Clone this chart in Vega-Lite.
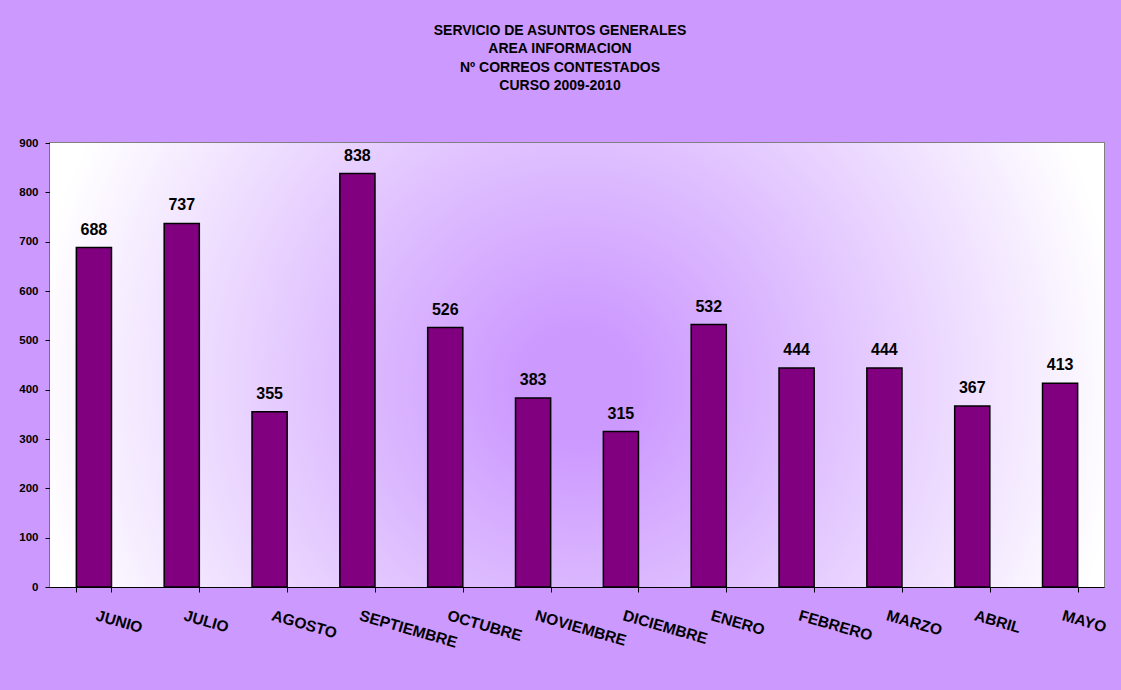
{
  "$schema": "https://vega.github.io/schema/vega-lite/v6.json",
  "autosize": {"type": "none"},
  "width": 1054,
  "height": 444,
  "padding": {"left": 50, "top": 143, "right": 17, "bottom": 103},
  "background": "#CC99FF",
  "title": {
    "text": ["SERVICIO DE ASUNTOS GENERALES", "AREA INFORMACION", "Nº CORREOS CONTESTADOS", "CURSO 2009-2010"],
    "anchor": "middle",
    "frame": "group",
    "dx": -17,
    "offset": 44,
    "font": "Liberation Sans",
    "fontSize": 14,
    "fontWeight": "bold",
    "lineHeight": 18.5,
    "color": "#000000"
  },
  "data": {
    "values": [
      {"mes": "JUNIO", "correos": 688},
      {"mes": "JULIO", "correos": 737},
      {"mes": "AGOSTO", "correos": 355},
      {"mes": "SEPTIEMBRE", "correos": 838},
      {"mes": "OCTUBRE", "correos": 526},
      {"mes": "NOVIEMBRE", "correos": 383},
      {"mes": "DICIEMBRE", "correos": 315},
      {"mes": "ENERO", "correos": 532},
      {"mes": "FEBRERO", "correos": 444},
      {"mes": "MARZO", "correos": 444},
      {"mes": "ABRIL", "correos": 367},
      {"mes": "MAYO", "correos": 413}
    ]
  },
  "layer": [
    {
      "data": {"values": [{}]},
      "mark": {
        "type": "rect",
        "color": {
          "gradient": "radial",
          "x1": 0.5, "y1": 0.52, "r1": 0,
          "x2": 0.5, "y2": 0.52, "r2": 0.52,
          "stops": [
            {"offset": 0, "color": "#CC99FF"},
            {"offset": 0.1, "color": "#CC99FF"},
            {"offset": 1, "color": "#FFFFFF"}
          ]
        }
      },
      "encoding": {}
    },
    {
      "mark": {"type": "bar", "color": "#800080", "stroke": "#000000", "strokeWidth": 1.5},
      "encoding": {
        "x": {
          "field": "mes", "type": "nominal", "sort": null,
          "scale": {"paddingInner": 0.6, "paddingOuter": 0.3},
          "axis": {
            "title": null,
            "labelAngle": 16,
            "labelAlign": "left",
            "labelBaseline": "top",
            "labelPadding": 16,
            "labelOffset": 4,
            "labelFont": "Liberation Sans",
            "labelFontSize": 15.5,
            "labelFontWeight": "bold",
            "labelColor": "#000000",
            "tickBand": "extent",
            "tickSize": 5,
            "tickColor": "#000000",
            "domainColor": "#000000",
            "domainWidth": 1.2
          }
        },
        "y": {
          "field": "correos", "type": "quantitative",
          "scale": {"domain": [0, 900], "nice": false},
          "axis": {
            "title": null,
            "values": [0, 100, 200, 300, 400, 500, 600, 700, 800, 900],
            "grid": false,
            "labelFont": "Liberation Sans",
            "labelFontSize": 11.5,
            "labelFontWeight": "bold",
            "labelColor": "#000000",
            "labelPadding": 7,
            "tickSize": 5,
            "tickColor": "#000000",
            "domainColor": "#000000",
            "domainWidth": 1.2
          }
        }
      }
    },
    {
      "mark": {
        "type": "text",
        "baseline": "bottom",
        "dy": -10,
        "font": "Liberation Sans",
        "fontSize": 16,
        "fontWeight": "bold",
        "color": "#000000"
      },
      "encoding": {
        "x": {"field": "mes", "type": "nominal", "sort": null},
        "y": {"field": "correos", "type": "quantitative"},
        "text": {"field": "correos", "type": "quantitative"}
      }
    }
  ],
  "config": {
    "view": {"stroke": "#808080", "strokeWidth": 2}
  }
}
